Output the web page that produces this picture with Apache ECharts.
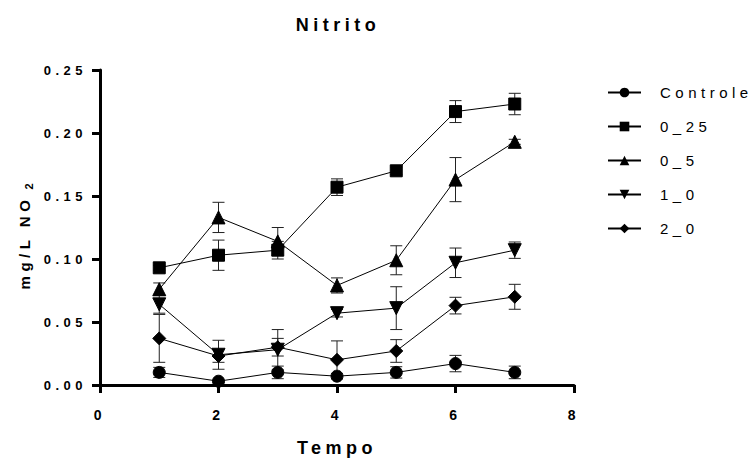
<!DOCTYPE html>
<html>
<head>
<meta charset="utf-8">
<script src="https://cdn.jsdelivr.net/npm/echarts@6/dist/echarts.min.js"></script>
<style>
html,body{margin:0;padding:0;background:#fff;overflow:hidden;width:753px;height:458px;}
#c{width:753px;height:458px;overflow:hidden;}
#c svg{display:block;}
#c text{letter-spacing:4.5px;}
</style>
</head>
<body>
<div id="c"></div>
<script>
var time = [1, 2, 3, 4, 5, 6, 7];
var seriesNames = ['Controle', '0_25', '0_5', '1_0', '2_0'];
var controle    = [0.010, 0.003, 0.010, 0.007, 0.010, 0.017, 0.010];
var controleErr = [0.004, 0.001, 0.005, 0.002, 0.0045, 0.0065, 0.005];
var s025        = [0.093, 0.103, 0.107, 0.157, 0.170, 0.217, 0.223];
var s025Err     = [0.002, 0.012, 0.007, 0.0066, 0.003, 0.0087, 0.0085];
var s05         = [0.076, 0.133, 0.114, 0.079, 0.099, 0.163, 0.193];
var s05Err      = [0.005, 0.012, 0.011, 0.006, 0.0115, 0.0175, 0.002];
var s10         = [0.064, 0.024, 0.028, 0.057, 0.061, 0.097, 0.107];
var s10Err      = [0.007, 0.0115, 0.016, 0.003, 0.017, 0.0117, 0.0065];
var s20         = [0.037, 0.023, 0.030, 0.020, 0.027, 0.063, 0.070];
var s20Err      = [0.019, 0.005, 0.007, 0.015, 0.009, 0.0066, 0.0099];
var xTicks = [0, 2, 4, 6, 8];
var yTicks = [0, 0.05, 0.10, 0.15, 0.20, 0.25];

var means = [controle, s025, s05, s10, s20];
var errs = [controleErr, s025Err, s05Err, s10Err, s20Err];
var symbols = ['circle', 'rect', 'triangle', 'path://M0,0 L10,0 L5,10 Z', 'diamond'];
var symSizes = [12, 12, 13, 13, 13];

var FONT = 'Liberation Sans, Arial, sans-serif';

function errRender(params, api) {
  var x = api.value(0), lo = api.value(1), hi = api.value(2);
  var p1 = api.coord([x, hi]), p2 = api.coord([x, lo]);
  var hw = 6;
  var st = {stroke: '#222', lineWidth: 1};
  return {type: 'group', children: [
    {type: 'line', shape: {x1: p1[0], y1: p1[1], x2: p2[0], y2: p2[1]}, style: st},
    {type: 'line', shape: {x1: p1[0] - hw, y1: p1[1], x2: p1[0] + hw, y2: p1[1]}, style: st},
    {type: 'line', shape: {x1: p2[0] - hw, y1: p2[1], x2: p2[0] + hw, y2: p2[1]}, style: st}
  ]};
}

var series = [];
for (var i = 0; i < means.length; i++) {
  var ed = [];
  for (var j = 0; j < time.length; j++) {
    ed.push([time[j], means[i][j] - errs[i][j], means[i][j] + errs[i][j]]);
  }
  series.push({
    type: 'custom', renderItem: errRender, data: ed, z: 1, silent: true,
    encode: {x: 0, y: [1, 2]}
  });
}
for (var i = 0; i < means.length; i++) {
  series.push({
    name: seriesNames[i], type: 'line', z: 3,
    data: time.map(function (t, k) { return [t, means[i][k]]; }),
    symbol: symbols[i], symbolSize: symSizes[i], showAllSymbol: true,
    lineStyle: {color: '#000', width: 1},
    itemStyle: {color: '#000', borderColor: '#000'},
    emphasis: {disabled: true}, animation: false
  });
}

var chart = echarts.init(document.getElementById('c'), null, {renderer: 'svg'});
chart.setOption({
  animation: false,
  backgroundColor: '#fff',
  title: {
    text: 'Nitrito', left: 333, top: 11, textAlign: 'center',
    textStyle: {fontFamily: FONT, fontSize: 18, fontWeight: 'bold', color: '#000'}
  },
  legend: {
    orient: 'vertical', left: 602, top: 80, itemGap: 19, itemWidth: 33, itemHeight: 12,
    data: seriesNames,
    textStyle: {fontFamily: FONT, fontSize: 15, color: '#000', padding: [0, 0, 0, 14]}
  },
  grid: {left: 100, right: 179, top: 70, bottom: 73, containLabel: false, outerBoundsMode: 'none'},
  xAxis: {
    type: 'value', min: 0, max: 8, interval: 2,
    name: 'Tempo', nameLocation: 'middle', nameGap: 54,
    nameTextStyle: {fontFamily: FONT, fontSize: 18, fontWeight: 'bold', color: '#000'},
    axisLine: {show: true, onZero: false, lineStyle: {color: '#000', width: 3}},
    axisTick: {show: true, length: 8, lineStyle: {color: '#000', width: 3}},
    axisLabel: {fontFamily: FONT, fontSize: 14, fontWeight: 'bold', color: '#000', margin: 23,
      formatter: function (v) { return xTicks.indexOf(v) >= 0 ? String(v) : ''; }},
    splitLine: {show: false}
  },
  yAxis: {
    type: 'value', min: 0, max: 0.25, interval: 0.05,
    name: '{a|mg/L NO}{b|2}', nameLocation: 'middle', nameGap: 66, nameRotate: 90,
    nameTextStyle: {rich: {
      a: {fontFamily: FONT, fontSize: 15, fontWeight: 'bold', color: '#000'},
      b: {fontFamily: FONT, fontSize: 11, fontWeight: 'bold', color: '#000', verticalAlign: 'bottom', padding: [8, 0, 0, 24]}
    }},
    axisLine: {show: true, onZero: false, lineStyle: {color: '#000', width: 3}},
    axisTick: {show: true, length: 8, lineStyle: {color: '#000', width: 3}},
    axisLabel: {fontFamily: FONT, fontSize: 13, fontWeight: 'bold', color: '#000', margin: 13,
      formatter: function (v) { return v.toFixed(2); }},
    splitLine: {show: false}
  },
  series: series
});
</script>
</body>
</html>
